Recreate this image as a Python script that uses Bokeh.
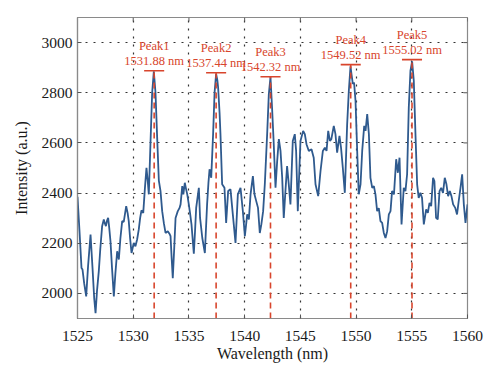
from bokeh.plotting import figure
from bokeh.models import FixedTicker, ColumnDataSource
from bokeh.core.properties import value
from bokeh.embed import file_html
from bokeh.resources import INLINE

wavelength = [
    1525.00, 1525.18, 1525.36, 1525.45, 1525.60, 1525.78, 1525.95, 1526.17, 1526.35, 1526.50,
    1526.62, 1526.75, 1526.91, 1527.05, 1527.21, 1527.36, 1527.45, 1527.55, 1527.65, 1527.75,
    1527.85, 1527.96, 1528.10, 1528.26, 1528.40, 1528.56, 1528.71, 1528.85, 1529.01, 1529.15,
    1529.37, 1529.50, 1529.60, 1529.72, 1529.85, 1530.05, 1530.20, 1530.35, 1530.50, 1530.62,
    1530.74, 1530.90, 1531.05, 1531.19, 1531.30, 1531.40, 1531.55, 1531.70, 1531.85, 1532.00,
    1532.15, 1532.30, 1532.45, 1532.60, 1532.75, 1532.90, 1533.10, 1533.25, 1533.35, 1533.45,
    1533.55, 1533.68, 1533.80, 1534.00, 1534.15, 1534.25, 1534.40, 1534.50, 1534.63, 1534.75,
    1534.85, 1534.99, 1535.10, 1535.23, 1535.44, 1535.55, 1535.65, 1535.89, 1536.00, 1536.20,
    1536.43, 1536.63, 1536.75, 1536.85, 1537.00, 1537.17, 1537.30, 1537.44, 1537.55, 1537.62,
    1537.75, 1537.83, 1537.98, 1538.19, 1538.34, 1538.52, 1538.73, 1538.94, 1539.18, 1539.39,
    1539.63, 1539.84, 1540.02, 1540.23, 1540.38, 1540.53, 1540.74, 1540.88, 1541.04, 1541.20,
    1541.36, 1541.50, 1541.66, 1541.81, 1542.02, 1542.17, 1542.32, 1542.46, 1542.60, 1542.77,
    1542.92, 1543.07, 1543.22, 1543.37, 1543.51, 1543.66, 1543.81, 1543.96, 1544.11, 1544.32,
    1544.50, 1544.62, 1544.77, 1545.01, 1545.25, 1545.40, 1545.55, 1545.76, 1546.00, 1546.20,
    1546.36, 1546.60, 1546.81, 1547.02, 1547.20, 1547.35, 1547.50, 1547.65, 1547.78, 1548.00,
    1548.15, 1548.30, 1548.51, 1548.65, 1548.81, 1548.99, 1549.20, 1549.35, 1549.50, 1549.60,
    1549.71, 1549.82, 1549.95, 1550.10, 1550.24, 1550.40, 1550.55, 1550.73, 1550.85, 1551.00,
    1551.15, 1551.29, 1551.45, 1551.60, 1551.74, 1551.89, 1552.04, 1552.19, 1552.34, 1552.49,
    1552.64, 1552.79, 1552.94, 1553.09, 1553.23, 1553.40, 1553.60, 1553.75, 1553.90, 1554.08,
    1554.28, 1554.43, 1554.58, 1554.73, 1554.88, 1555.03, 1555.18, 1555.33, 1555.48, 1555.62,
    1555.77, 1555.92, 1556.08, 1556.29, 1556.44, 1556.59, 1556.74, 1556.91, 1557.03, 1557.18,
    1557.33, 1557.49, 1557.64, 1557.80, 1557.96, 1558.11, 1558.26, 1558.41, 1558.56, 1558.71,
    1558.90, 1559.06, 1559.21, 1559.37, 1559.52, 1559.67, 1559.82, 1560.00,
]
intensity = [
    2385, 2248, 2101, 2095, 2040, 1988, 2110, 2235, 2100, 1980,
    1921, 2010, 2088, 2180, 2268, 2295, 2280, 2268, 2290, 2301,
    2260, 2208, 2100, 1988, 2080, 2168, 2135, 2220, 2288, 2285,
    2348, 2320, 2288, 2220, 2161, 2201, 2188, 2215, 2255, 2300,
    2331, 2321, 2420, 2501, 2450, 2395, 2600, 2800, 2885, 2800,
    2620, 2450, 2408, 2328, 2280, 2241, 2248, 2238, 2228, 2140,
    2061, 2180, 2301, 2328, 2340, 2355, 2428, 2395, 2441, 2415,
    2395, 2355, 2320, 2275, 2158, 2250, 2341, 2421, 2301, 2221,
    2161, 2355, 2440, 2495, 2461, 2635, 2800, 2875, 2850, 2821,
    2720, 2635, 2435, 2421, 2281, 2408, 2415, 2315, 2201, 2395,
    2421, 2328, 2228, 2315, 2295, 2395, 2468, 2395, 2368, 2341,
    2241, 2275, 2328, 2435, 2635, 2795, 2862, 2741, 2608, 2421,
    2528, 2615, 2568, 2461, 2301, 2408, 2508, 2435, 2355, 2608,
    2635, 2568, 2328, 2608, 2648, 2635, 2595, 2568, 2575, 2541,
    2435, 2388, 2488, 2568, 2581, 2568, 2648, 2608, 2615, 2668,
    2635, 2561, 2628, 2581, 2501, 2401, 2675, 2808, 2905, 2870,
    2835, 2841, 2768, 2568, 2395, 2435, 2568, 2668, 2648, 2715,
    2635, 2461, 2421, 2428, 2395, 2328, 2340, 2288, 2281, 2241,
    2221, 2248, 2315, 2328, 2408, 2395, 2535, 2481, 2541, 2275,
    2421, 2408, 2475, 2741, 2888, 2925, 2848, 2635, 2435, 2381,
    2401, 2381, 2275, 2335, 2321, 2361, 2348, 2461, 2448, 2301,
    2295, 2408, 2421, 2401, 2461, 2435, 2388, 2408, 2388, 2355,
    2341, 2315, 2368, 2421, 2475, 2355, 2281, 2355,
]

peak_names = ["Peak1", "Peak2", "Peak3", "Peak4", "Peak5"]
peak_wavelengths = [1531.88, 1537.44, 1542.32, 1549.52, 1555.02]
peak_tops = [2888, 2880, 2864, 2912, 2932]
peak_labels = ["1531.88 nm", "1537.44 nm", "1542.32 nm", "1549.52 nm", "1555.02 nm"]

x_ticks = [1525, 1530, 1535, 1540, 1545, 1550, 1555, 1560]
y_ticks = [2000, 2200, 2400, 2600, 2800, 3000]

X0, X1, Y0, Y1 = 1525, 1560, 1900, 3100
FONT = "Liberation Serif"
RED = "#D8452C"
BLUE = "#2F5A8E"
FRAME = "#8a8a8a"
TICK = "#555555"

W, H = 492, 373
BL, BR, BT, BB = 77, 25, 17, 55
frame_w = W - BL - BR
frame_h = H - BT - BB
y_per_px = (Y1 - Y0) / frame_h
x_per_px = (X1 - X0) / frame_w

p = figure(width=W, height=H, x_range=(X0, X1), y_range=(Y0, Y1),
           output_backend="svg", toolbar_location=None,
           min_border_left=BL, min_border_right=BR, min_border_top=BT, min_border_bottom=BB)
p.background_fill_color = "white"
p.border_fill_color = "white"
p.outline_line_color = FRAME
p.outline_line_width = 1.2

for ax in (p.xaxis[0], p.yaxis[0]):
    ax.axis_line_color = FRAME
    ax.axis_line_width = 1.2
    ax.major_tick_line_color = TICK
    ax.major_tick_in = 4
    ax.major_tick_out = 0
    ax.minor_tick_line_color = None
    ax.major_label_text_font = FONT
    ax.major_label_text_font_size = "15.5px"
    ax.major_label_text_color = "#1a1a1a"
    ax.axis_label_text_font = FONT
    ax.axis_label_text_font_size = "16px"
    ax.axis_label_text_font_style = "normal"
    ax.axis_label_text_color = "#1a1a1a"

p.xaxis.ticker = FixedTicker(ticks=x_ticks)
p.yaxis.ticker = FixedTicker(ticks=y_ticks)
p.xaxis.axis_label = "Wavelength (nm)"
p.yaxis.axis_label = "Intensity (a.u.)"
p.xaxis.major_label_standoff = 12
p.xaxis.axis_label_standoff = 1
p.yaxis.major_label_standoff = 5
p.yaxis.axis_label_standoff = 9

# inward tick marks on the top and right edges of the box
p.segment(x0=x_ticks, y0=[Y1] * len(x_ticks), x1=x_ticks,
          y1=[Y1 - 4 * y_per_px] * len(x_ticks), line_color=TICK, line_width=1)
p.segment(x0=[X1] * len(y_ticks), y0=y_ticks, x1=[X1 - 4 * x_per_px] * len(y_ticks),
          y1=y_ticks, line_color=TICK, line_width=1)

p.xgrid.ticker = FixedTicker(ticks=x_ticks)
p.ygrid.ticker = FixedTicker(ticks=y_ticks)
for g in (p.xgrid[0], p.ygrid[0]):
    g.grid_line_color = "#333333"
    g.grid_line_dash = "2 6"
    g.grid_line_width = 1.2

p.line(wavelength, intensity, line_color=BLUE, line_width=1.8)

p.segment(x0=peak_wavelengths, y0=[Y0] * 5, x1=peak_wavelengths, y1=peak_tops,
          line_color=RED, line_width=1.6, line_dash="6 4")
half_w = 0.9
p.segment(x0=[w - half_w for w in peak_wavelengths], y0=peak_tops,
          x1=[w + half_w for w in peak_wavelengths], y1=peak_tops,
          line_color=RED, line_width=1.6)

src = ColumnDataSource(dict(
    x=peak_wavelengths,
    y_num=[t + 10 * y_per_px for t in peak_tops],
    y_name=[t + 25 * y_per_px for t in peak_tops],
    num=peak_labels, name=peak_names))
p.text(x="x", y="y_num", text="num", source=src, text_font=value(FONT),
       text_font_size="12.5px", text_color=RED, text_align="center", text_baseline="middle")
p.text(x="x", y="y_name", text="name", source=src, text_font=value(FONT),
       text_font_size="12.5px", text_color=RED, text_align="center", text_baseline="middle")

open("out.html", "w").write(file_html(p, INLINE))
